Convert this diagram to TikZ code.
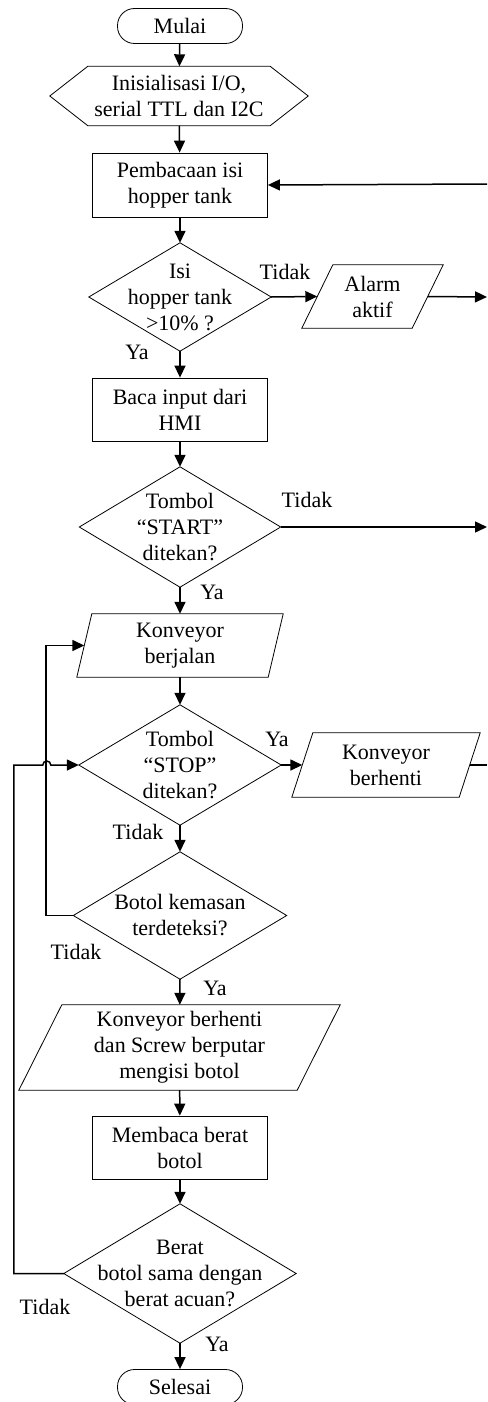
\documentclass[tikz,border=0pt]{standalone}
\usepackage{fontspec}
\setmainfont{Liberation Serif}
\usetikzlibrary{arrows.meta,calc}

\begin{document}
\begin{tikzpicture}[x=1pt,y=-1pt,
  every node/.style={font=\fontsize{22pt}{26pt}\selectfont, align=center, inner sep=0pt},
  terminal/.style={draw, line width=0.8pt, rounded corners=17pt, minimum width=125pt, minimum height=35pt},
  proses/.style={draw, line width=0.8pt, minimum width=175pt, minimum height=63pt},
  bentuk/.style={line width=0.8pt},
  garis/.style={line width=1.5pt},
  panah/.style={line width=1.5pt, -{Triangle[length=12pt,width=11pt]}}]
\useasboundingbox (0,0) rectangle (487,1402);
\clip (0,0) rectangle (487,1402);

% bentuk-bentuk
\node[terminal] (mulai) at (180,26) {Mulai};

\node[minimum width=258pt, minimum height=59pt] (init) at (179,96) {Inisialisasi I/O,\\serial TTL dan I2C};
\draw[bentuk] (init.west) -- ([xshift=38pt]init.north west) -- ([xshift=-38pt]init.north east)
  -- (init.east) -- ([xshift=-38pt]init.south east) -- ([xshift=38pt]init.south west) -- cycle;

\node[proses, minimum height=64pt] (baca) at (180,185) {Pembacaan isi\\hopper tank};

\node[minimum width=182pt, minimum height=108pt] (cek1) at (180,297) {Isi\\hopper tank\\>10\% ?};
\draw[bentuk] (cek1.north) -- (cek1.east) -- (cek1.south) -- (cek1.west) -- cycle;

\node[minimum width=110pt, minimum height=63pt] (alarm) at (372.5,296.5) {Alarm\\aktif};
\draw[bentuk] ($(alarm.north west)+(15.5,0)$) -- ($(alarm.north east)+(15.5,0)$)
  -- ($(alarm.south east)-(15.5,0)$) -- ($(alarm.south west)-(15.5,0)$) -- cycle;

\node[proses] (hmi) at (180,409.5) {Baca input dari\\HMI};

\node[minimum width=201pt, minimum height=120pt] (cek2) at (180,527) {Tombol\\“START”\\ditekan?};
\draw[bentuk] (cek2.north) -- (cek2.east) -- (cek2.south) -- (cek2.west) -- cycle;

\node[minimum width=191pt, minimum height=63pt] (jalan) at (180,645.5) {Konveyor\\berjalan};
\draw[bentuk] ($(jalan.north west)+(7.5,0)$) -- ($(jalan.north east)+(7.5,0)$)
  -- ($(jalan.south east)-(7.5,0)$) -- ($(jalan.south west)-(7.5,0)$) -- cycle;

\node[minimum width=202pt, minimum height=120pt] (cek3) at (180,765) {Tombol\\“STOP”\\ditekan?};
\draw[bentuk] (cek3.north) -- (cek3.east) -- (cek3.south) -- (cek3.west) -- cycle;

\node[minimum width=167pt, minimum height=64pt] (henti) at (386,765) {Konveyor\\berhenti};
\draw[bentuk] ($(henti.north west)+(10.5,0)$) -- ($(henti.north east)+(10.5,0)$)
  -- ($(henti.south east)-(10.5,0)$) -- ($(henti.south west)-(10.5,0)$) -- cycle;

\node[minimum width=213pt, minimum height=127pt] (cek4) at (180,915.5) {Botol kemasan\\terdeteksi?};
\draw[bentuk] (cek4.north) -- (cek4.east) -- (cek4.south) -- (cek4.west) -- cycle;

\node[minimum width=278pt, minimum height=85pt] (isi) at (179.5,1047.5) {Konveyor berhenti\\dan Screw berputar\\mengisi botol};
\draw[bentuk] ($(isi.north west)+(21.5,0)$) -- ($(isi.north east)+(21.5,0)$)
  -- ($(isi.south east)-(21.5,0)$) -- ($(isi.south west)-(21.5,0)$) -- cycle;

\node[proses] (berat) at (180,1147.5) {Membaca berat\\botol};

\node[minimum width=232pt, minimum height=139pt] (cek5) at (180,1273.5) {Berat\\botol sama dengan\\berat acuan?};
\draw[bentuk] (cek5.north) -- (cek5.east) -- (cek5.south) -- (cek5.west) -- cycle;

\node[terminal] (selesai) at (180,1387) {Selesai};

% keterangan
\node (tidak1) at (285,272) {Tidak};
\node (ya1) at (137,352) {Ya};
\node (tidak2) at (307,500) {Tidak};
\node (ya2) at (212,592) {Ya};
\node (ya3) at (277,739) {Ya};
\node (tidak3) at (138,832) {Tidak};
\node (tidak4) at (76,952) {Tidak};
\node (ya4) at (215,988) {Ya};
\node (tidak5) at (45,1307) {Tidak};
\node (ya5) at (217,1344) {Ya};

% ujung kanan
\coordinate (kanan1) at (487,184);
\coordinate (kanan2) at (487,297);
\coordinate (kanan3) at (487,527);
\coordinate (kanan4) at (487,765);

% panah
\draw[panah] (mulai) -- (init);
\draw[panah] (init) -- (baca);
\draw[panah] (kanan1) -- (baca.east);
\draw[panah] (baca) -- (cek1);
\draw[panah] (cek1.east) -- (alarm.west);
\draw[panah] (alarm.east) -- (kanan2);
\draw[panah] (cek1.south) -- (hmi);
\draw[panah] (hmi) -- (cek2.north);
\draw[panah] (cek2.east) -- (kanan3);
\draw[panah] (cek2.south) -- (jalan);
\draw[panah] (jalan) -- (cek3.north);
\draw[panah] (cek3.east) -- (henti.west);
\draw[garis] (henti.east) -- (kanan4);
\draw[panah] (cek3.south) -- (cek4.north);
\draw[panah] (cek4.west) -- ++(-27.5,0) |- (jalan.west);
\draw[panah] (cek4.south) -- (isi);
\draw[panah] (isi) -- (berat);
\draw[panah] (berat) -- (cek5.north);
\draw[panah] (cek5.west) -- ++(-50,0) |- ([xshift=-36pt]cek3.west)
  arc[start angle=180, end angle=0, radius=4pt] -- (cek3.west);
\draw[panah] (cek5.south) -- (selesai);
\end{tikzpicture}
\end{document}
